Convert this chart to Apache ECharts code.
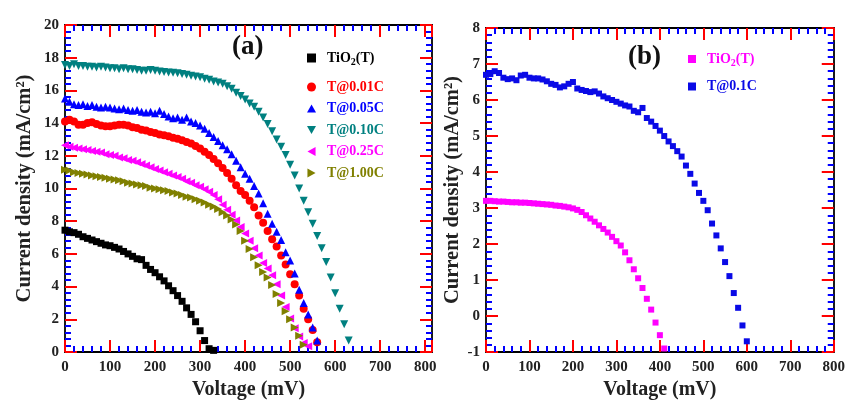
<!DOCTYPE html>
<html>
<head>
<meta charset="utf-8">
<title>J–V curves</title>
<script src="https://cdn.jsdelivr.net/npm/echarts@6/dist/echarts.min.js"></script>
<style>
  html, body { margin: 0; padding: 0; background: #fff; }
  #chart { width: 848px; height: 405px; }
</style>
</head>
<body>
<div id="chart"></div>
<script>
// Photocurrent density (mA/cm²) sampled every 10 mV from 0 mV
const STEP_MV = 10;

// Panel (a)
const a_TiO2 = [7.45, 7.35, 7.3, 7.2, 7.05, 6.95, 6.85, 6.75, 6.65, 6.55, 6.5, 6.4, 6.3, 6.15, 6.0, 5.85, 5.7, 5.65, 5.3, 5.05, 4.85, 4.6, 4.35, 4.05, 3.75, 3.45, 3.1, 2.7, 2.3, 1.85, 1.3, 0.7, 0.2, 0.1];
const a_T001 = [14.1, 14.2, 14.1, 13.9, 13.9, 14.0, 14.05, 13.95, 13.85, 13.8, 13.8, 13.85, 13.9, 13.9, 13.85, 13.75, 13.7, 13.6, 13.55, 13.45, 13.4, 13.3, 13.25, 13.2, 13.1, 13.05, 12.95, 12.85, 12.75, 12.6, 12.45, 12.25, 12.05, 11.8, 11.55, 11.25, 10.95, 10.6, 10.2, 9.85, 9.6, 9.25, 8.85, 8.35, 7.9, 7.4, 6.9, 6.45, 5.9, 5.35, 4.75, 4.15, 3.45, 2.65, 2.0, 1.35, 0.6];
const a_T005 = [15.5, 15.3, 15.15, 15.1, 15.15, 15.05, 15.1, 15.0, 14.95, 15.0, 14.95, 14.9, 14.85, 14.9, 14.8, 14.75, 14.8, 14.7, 14.65, 14.7, 14.6, 14.75, 14.55, 14.4, 14.3, 14.35, 14.2, 14.35, 14.1, 14.0, 13.85, 13.65, 13.4, 13.15, 12.9, 12.65, 12.4, 12.1, 11.7, 11.3, 10.9, 10.6, 10.15, 9.7, 9.1, 8.45, 7.85, 7.35, 6.85, 6.1, 5.6, 4.8, 3.8, 3.0, 2.3, 1.5, 0.7];
const a_T010 = [17.55, 17.5, 17.6, 17.5, 17.5, 17.45, 17.45, 17.4, 17.45, 17.4, 17.35, 17.35, 17.3, 17.35, 17.3, 17.3, 17.25, 17.2, 17.2, 17.25, 17.2, 17.15, 17.12, 17.1, 17.08, 17.05, 17.0, 16.95, 16.9, 16.85, 16.8, 16.72, 16.65, 16.55, 16.48, 16.4, 16.25, 16.1, 15.85, 15.65, 15.45, 15.2, 15.0, 14.7, 14.35, 13.95, 13.5, 13.0, 12.55, 12.05, 11.45, 10.8, 10.0, 9.25, 8.55, 7.85, 7.1, 6.35, 5.5, 4.55, 3.6, 2.65, 1.7, 0.7];
const a_T025 = [12.65, 12.55, 12.5, 12.45, 12.4, 12.35, 12.3, 12.25, 12.2, 12.1, 12.05, 12.0, 11.9, 11.85, 11.75, 11.7, 11.6, 11.5, 11.4, 11.3, 11.2, 11.1, 11.0, 10.9, 10.8, 10.7, 10.6, 10.45, 10.35, 10.2, 10.1, 9.95, 9.8, 9.6, 9.35, 9.0, 8.7, 8.4, 8.05, 7.65, 7.25, 6.8, 6.35, 5.9, 5.45, 5.1, 4.7, 4.15, 3.45, 2.75, 2.05, 1.45, 0.95, 0.55, 0.35];
const a_T100 = [11.15, 11.1, 11.0, 10.95, 10.9, 10.85, 10.8, 10.75, 10.7, 10.65, 10.6, 10.55, 10.5, 10.45, 10.35, 10.3, 10.25, 10.2, 10.15, 10.05, 10.0, 9.95, 9.9, 9.85, 9.75, 9.7, 9.6, 9.5, 9.45, 9.35, 9.25, 9.15, 9.0, 8.9, 8.75, 8.55, 8.35, 8.1, 7.8, 7.4, 6.8, 6.3, 5.8, 5.3, 4.9, 4.55, 4.1, 3.55, 3.0, 2.5, 2.0, 1.5, 1.0, 0.45];

// Panel (b)
const b_TiO2 = [3.2, 3.2, 3.19, 3.18, 3.18, 3.17, 3.16, 3.16, 3.15, 3.15, 3.14, 3.13, 3.12, 3.11, 3.1, 3.09, 3.07, 3.06, 3.04, 3.02, 2.99, 2.95, 2.89, 2.8, 2.71, 2.62, 2.52, 2.42, 2.32, 2.2, 2.08, 1.96, 1.77, 1.55, 1.3, 1.05, 0.78, 0.48, 0.18, -0.18, -0.53, -0.9];
const b_T01 = [6.7, 6.72, 6.8, 6.75, 6.62, 6.58, 6.6, 6.55, 6.68, 6.7, 6.62, 6.6, 6.6, 6.57, 6.52, 6.45, 6.42, 6.35, 6.38, 6.45, 6.5, 6.32, 6.28, 6.25, 6.22, 6.24, 6.18, 6.1, 6.05, 6.0, 5.95, 5.9, 5.85, 5.82, 5.7, 5.66, 5.78, 5.5, 5.4, 5.28, 5.15, 5.0, 4.85, 4.72, 4.58, 4.43, 4.18, 3.95, 3.68, 3.42, 3.2, 2.94, 2.57, 2.24, 1.88, 1.5, 1.11, 0.64, 0.23, -0.26, -0.7];

// Axis ranges and ticks
const xTicksA = { min: 0, max: 815, interval: 100 };
const yTicksA = { min: 0, max: 20, interval: 2 };
const xTicksB = { min: 0, max: 800, interval: 100 };
const yTicksB = { min: -1, max: 8, interval: 1 };

const pairs = arr => arr.map((j, i) => [i * STEP_MV, j]);

const SERIF = 'Liberation Serif, Times New Roman, serif';
const TRI_UP = 'path://M5,0L10,9L0,9Z';
const TRI_DOWN = 'path://M0,0L10,0L5,9Z';
const TRI_LEFT = 'path://M0,5L9,0L9,10Z';
const TRI_RIGHT = 'path://M0,0L9,5L0,10Z';

const C = {
  black: '#000000', red: '#ff0000', blue: '#0000ff', blueB: '#0a0ae6',
  teal: '#008080', magenta: '#ff00ff', olive: '#808000'
};

// Boxed frame: every side carries inward major and minor ticks
function frameAxis(kind, grid, ticks, pos, labels) {
  const label = labels
    ? { show: true, fontFamily: SERIF, fontWeight: 'bold', fontSize: 15, color: '#222', margin: kind === 'x' ? 8 : 6 }
    : { show: false };
  if (labels && ticks.max % ticks.interval !== 0) label.showMaxLabel = false;
  return {
    type: 'value', gridIndex: grid, position: pos,
    min: ticks.min, max: ticks.max, interval: ticks.interval,
    axisLine: { show: true, onZero: false, lineStyle: { color: '#000', width: 1.8 } },
    axisTick: { show: true, inside: true, length: 12, lineStyle: { color: '#f00', width: 2 } },
    minorTick: { show: true, splitNumber: 5, length: 6, lineStyle: { color: '#00f', width: 2 } },
    axisLabel: label,
    splitLine: { show: false }
  };
}

function scatter(name, data, symbol, size, color, xi, yi) {
  return {
    type: 'scatter', name, data: pairs(data), symbol, symbolSize: size,
    xAxisIndex: xi, yAxisIndex: yi,
    itemStyle: { color, opacity: 1 },
    emphasis: { disabled: true }
  };
}

const nameStyle = { fontFamily: SERIF, fontWeight: 'bold', fontSize: 20, color: '#222' };

const xA = frameAxis('x', 0, xTicksA, 'bottom', true);
Object.assign(xA, { name: 'Voltage (mV)', nameLocation: 'middle', nameGap: 28, nameTextStyle: nameStyle });

const xB = frameAxis('x', 1, xTicksB, 'bottom', true);
Object.assign(xB, { name: 'Voltage (mV)', nameLocation: 'middle', nameGap: 26, nameTextStyle: nameStyle });

const yA = frameAxis('y', 0, yTicksA, 'left', true);
Object.assign(yA, { name: 'Current density (mA/cm²)', nameLocation: 'middle', nameGap: 30,
  nameTextStyle: Object.assign({}, nameStyle, { fontSize: 20.5 }) });

const yB = frameAxis('y', 1, yTicksB, 'left', true);
Object.assign(yB, { name: 'Current density (mA/cm²)', nameLocation: 'middle', nameGap: 23,
  nameTextStyle: Object.assign({}, nameStyle, { fontSize: 20.5 }) });

const legendText = {
  fontFamily: SERIF, fontWeight: 'bold', fontSize: 14, color: '#000', padding: [0, 0, 0, 6]
};
const fmt = name => {
  const n = name.split(':')[1];
  return n.indexOf('TiO2') === 0 ? '{b|TiO}{s|2}{b|(T)}' : n;
};
const richColored = color => ({
  color,
  rich: {
    b: { color, fontFamily: SERIF, fontWeight: 'bold', fontSize: 14 },
    s: { color, fontFamily: SERIF, fontWeight: 'bold', fontSize: 10, padding: [9, 0, 0, 0] }
  }
});

const option = {
  animation: false,
  grid: [
    { left: 65, top: 25, width: 367, height: 334 },
    { left: 486, top: 28, width: 351, height: 326 }
  ],
  xAxis: [
    xA, xB,
    frameAxis('x', 0, xTicksA, 'top', false),
    frameAxis('x', 1, xTicksB, 'top', false)
  ],
  yAxis: [
    yA, yB,
    frameAxis('y', 0, yTicksA, 'right', false),
    frameAxis('y', 1, yTicksB, 'right', false)
  ],
  legend: [
    {
      data: [{ name: 'a:TiO2(T)', textStyle: richColored(C.black) }],
      left: 302, top: 46, itemWidth: 9, itemHeight: 9, formatter: fmt,
      textStyle: legendText, selectedMode: false
    },
    {
      data: [
        { name: 'a:T@0.01C', textStyle: { color: C.red } },
        { name: 'a:T@0.05C', textStyle: { color: C.blue } },
        { name: 'a:T@0.10C', textStyle: { color: C.teal } },
        { name: 'a:T@0.25C', textStyle: { color: C.magenta } },
        { name: 'a:T@1.00C', textStyle: { color: C.olive } }
      ],
      orient: 'vertical', left: 302, top: 75, itemGap: 7.5,
      itemWidth: 9, itemHeight: 9, formatter: fmt,
      textStyle: legendText, selectedMode: false
    },
    {
      data: [
        { name: 'b:TiO2(T)', textStyle: richColored(C.magenta) },
        { name: 'b:T@0.1C', textStyle: { color: C.blueB } }
      ],
      orient: 'vertical', left: 683, top: 47, itemGap: 11,
      itemWidth: 8, itemHeight: 8, formatter: fmt,
      textStyle: legendText, selectedMode: false
    }
  ],
  graphic: [
    { type: 'text', left: 232, top: 34, style: { text: '(a)', fontFamily: SERIF, fontWeight: 'bold', fontSize: 27, fill: '#111' } },
    { type: 'text', left: 628, top: 44, style: { text: '(b)', fontFamily: SERIF, fontWeight: 'bold', fontSize: 27, fill: '#111' } }
  ],
  series: [
    scatter('a:TiO2(T)', a_TiO2, 'rect', 7, C.black, 0, 0),
    scatter('a:T@0.01C', a_T001, 'circle', 8, C.red, 0, 0),
    scatter('a:T@0.05C', a_T005, TRI_UP, 8, C.blue, 0, 0),
    scatter('a:T@0.10C', a_T010, TRI_DOWN, 8, C.teal, 0, 0),
    scatter('a:T@0.25C', a_T025, TRI_LEFT, 8, C.magenta, 0, 0),
    scatter('a:T@1.00C', a_T100, TRI_RIGHT, 8, C.olive, 0, 0),
    scatter('b:TiO2(T)', b_TiO2, 'rect', 6, C.magenta, 1, 1),
    scatter('b:T@0.1C', b_T01, 'rect', 6, C.blueB, 1, 1)
  ]
};

const chart = echarts.init(document.getElementById('chart'));
chart.setOption(option);
</script>
</body>
</html>
